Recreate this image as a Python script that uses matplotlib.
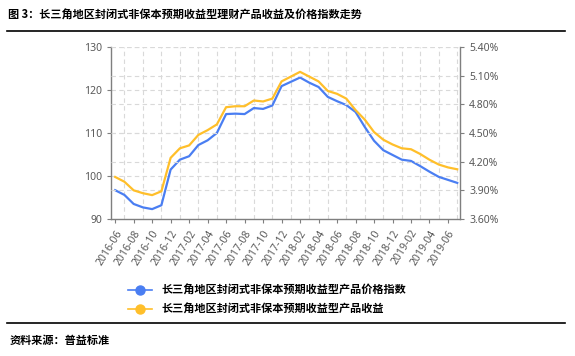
import matplotlib
matplotlib.use("Agg")
import matplotlib.pyplot as plt
from matplotlib.ticker import FuncFormatter

plt.rcParams['font.family'] = ['Noto Sans CJK SC', 'DejaVu Sans']

# monthly, 2016-06 .. 2019-07
months = []
y, m = 2016, 6
while (y, m) <= (2019, 7):
    months.append(f"{y}-{m:02d}")
    m += 1
    if m > 12:
        y, m = y + 1, 1

price_index = [96.7, 95.6, 93.5, 92.7, 92.3, 93.2, 101.5, 103.8, 104.6, 107.2,
               108.3, 110.0, 114.4, 114.5, 114.4, 115.8, 115.6, 116.4, 120.9, 121.9,
               122.9, 121.7, 120.7, 118.4, 117.4, 116.5, 114.9, 111.4, 108.2, 106.0,
               104.9, 103.8, 103.5, 102.3, 101.0, 99.8, 99.1, 98.4]
yield_pct = [4.04, 3.99, 3.90, 3.87, 3.85, 3.89, 4.24, 4.34, 4.37, 4.48,
             4.53, 4.59, 4.77, 4.78, 4.78, 4.84, 4.83, 4.86, 5.04, 5.09,
             5.14, 5.09, 5.04, 4.94, 4.91, 4.86, 4.74, 4.64, 4.51, 4.43,
             4.38, 4.34, 4.33, 4.28, 4.22, 4.17, 4.14, 4.12]

name_idx = "长三角地区封闭式非保本预期收益型产品价格指数"
name_yld = "长三角地区封闭式非保本预期收益型产品收益"
blue = "#4a7ef2"
gold = "#ffbf2a"
gray = "#7f7f7f"
grid_c = "#d9d9d9"

fig = plt.figure(figsize=(5.75, 3.56), dpi=100)
W, H = 575, 356
ax = fig.add_axes([111 / W, 1 - 219 / H, (460 - 111) / W, (219 - 47) / H])
ax2 = ax.twinx()

x = list(range(len(months)))
ax.set_xlim(-0.45, len(months) - 0.7)
ax.set_ylim(90, 130)
ax.set_yticks([90, 100, 110, 120, 130])
ax2.set_ylim(3.6, 5.4)
ax2.set_yticks([3.6, 3.9, 4.2, 4.5, 4.8, 5.1, 5.4])
ax2.yaxis.set_major_formatter(FuncFormatter(lambda v, p: f"{v:.2f}%"))

# grid: vertical between labelled ticks, horizontal at both axes' ticks
for i in range(1, len(months), 2):
    ax.axvline(i, color=grid_c, lw=0.8, ls=(0, (4, 3)), zorder=0)
for v in [100, 110, 120, 130]:
    ax.axhline(v, color=grid_c, lw=0.8, ls=(0, (4, 3)), zorder=0)
for v in [3.9, 4.2, 4.5, 4.8, 5.1, 5.4]:
    ax2.axhline(v, color=grid_c, lw=0.8, ls=(0, (4, 3)), zorder=0)

ax.plot(x, price_index, color=blue, lw=1.6, zorder=3)
ax2.plot(x, yield_pct, color=gold, lw=1.6, zorder=3)

ax.set_xticks(x[::2])
ax.set_xticklabels(months[::2], rotation=58, ha="right", va="top",
                   rotation_mode="anchor", fontsize=7.5, color="#595959",
                   family=['Noto Sans', 'DejaVu Sans'])

for a in (ax, ax2):
    a.spines['top'].set_visible(False)
    for s in a.spines.values():
        s.set_color(gray)
        s.set_linewidth(1.0)
    a.tick_params(colors=gray, labelcolor="#595959", labelsize=7.5, length=3, width=0.8)
ax.spines['right'].set_visible(False)
ax2.spines['left'].set_visible(False)
ax2.spines['bottom'].set_visible(False)
for lab in ax.get_yticklabels() + ax2.get_yticklabels():
    lab.set_family(['Noto Sans', 'DejaVu Sans'])

# legend
h1, = ax.plot([], [], color=blue, lw=1.2, marker="o", ms=6.5)
h2, = ax.plot([], [], color=gold, lw=1.2, marker="o", ms=6.5)
fig.legend([h1, h2], [name_idx, name_yld], loc="upper left",
           bbox_to_anchor=(118 / W, 1 - 274 / H), frameon=False,
           handlelength=2.2, labelspacing=0.55,
           prop={'weight': 'bold', 'size': 8})

fig.text(8 / W, 1 - 15 / H, "图 3：长三角地区封闭式非保本预期收益型理财产品收益及价格指数走势",
         fontsize=8, va="center", ha="left", weight="bold")
fig.add_artist(plt.Line2D([7 / W, 565 / W], [1 - 31 / H, 1 - 31 / H],
                          color="black", lw=1.2))
fig.add_artist(plt.Line2D([7 / W, 565 / W], [1 - 323 / H, 1 - 323 / H],
                          color="black", lw=1.2))
fig.text(10 / W, 1 - 340 / H, "资料来源：普益标准", fontsize=8, va="center",
         ha="left", weight="bold")

fig.savefig("out.png", dpi=100)
